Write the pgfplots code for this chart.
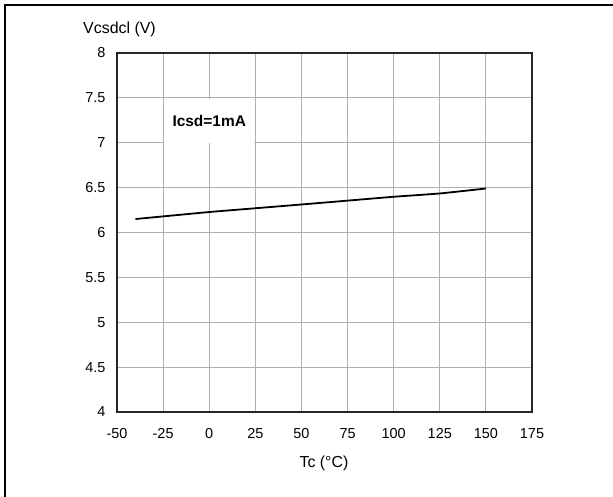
\documentclass[border=0pt]{standalone}
\usepackage{fontspec}
\setmainfont{Liberation Sans}
\usepackage{pgfplots}
\pgfplotsset{compat=1.18}
\definecolor{gridgray}{RGB}{175,175,175}
\begin{document}
\begin{tikzpicture}[x=1bp,y=1bp]
\useasboundingbox (0,0) rectangle (613,497);
\draw[line width=2.2bp] (5,-5) -- (5,492) -- (620,492);
\begin{axis}[
  at={(117bp,85bp)}, anchor=south west,
  scale only axis, width=415bp, height=359bp,
  xmin=-50, xmax=175, ymin=4, ymax=8,
  xtick={-50,-25,...,175}, ytick={4,4.5,...,8},
  major tick length=0pt,
  grid=major,
  major grid style={gridgray, line width=1bp},
  axis line style={black!85, line width=1.4bp},
  /pgf/number format/assume math mode=true,
  /pgf/number format/fixed,
  ticklabel style={font=\fontsize{14.5}{16}\selectfont},
  xticklabel style={yshift=-13bp},
  yticklabel style={xshift=-8bp},
  clip=false,
]
\fill[white] (axis cs:-24.5,6.996) rectangle (axis cs:24.5,7.485);
\node[font=\fontsize{15.5}{17}\bfseries\selectfont] at (axis cs:0,7.24) {Icsd=1mA};
\addplot[black, line width=1.8bp, smooth, tension=0.3] coordinates {
(-40,6.15) (0,6.228) (25,6.27) (50,6.312) (75,6.355) (100,6.398) (125,6.435) (150,6.49)
};
\end{axis}
\node[font=\fontsize{16}{18}\selectfont] at (119.5,468) {Vcsdcl (V)};
\node[font=\fontsize{16}{18}\selectfont] at (324,34) {Tc (°C)};
\end{tikzpicture}
\end{document}
